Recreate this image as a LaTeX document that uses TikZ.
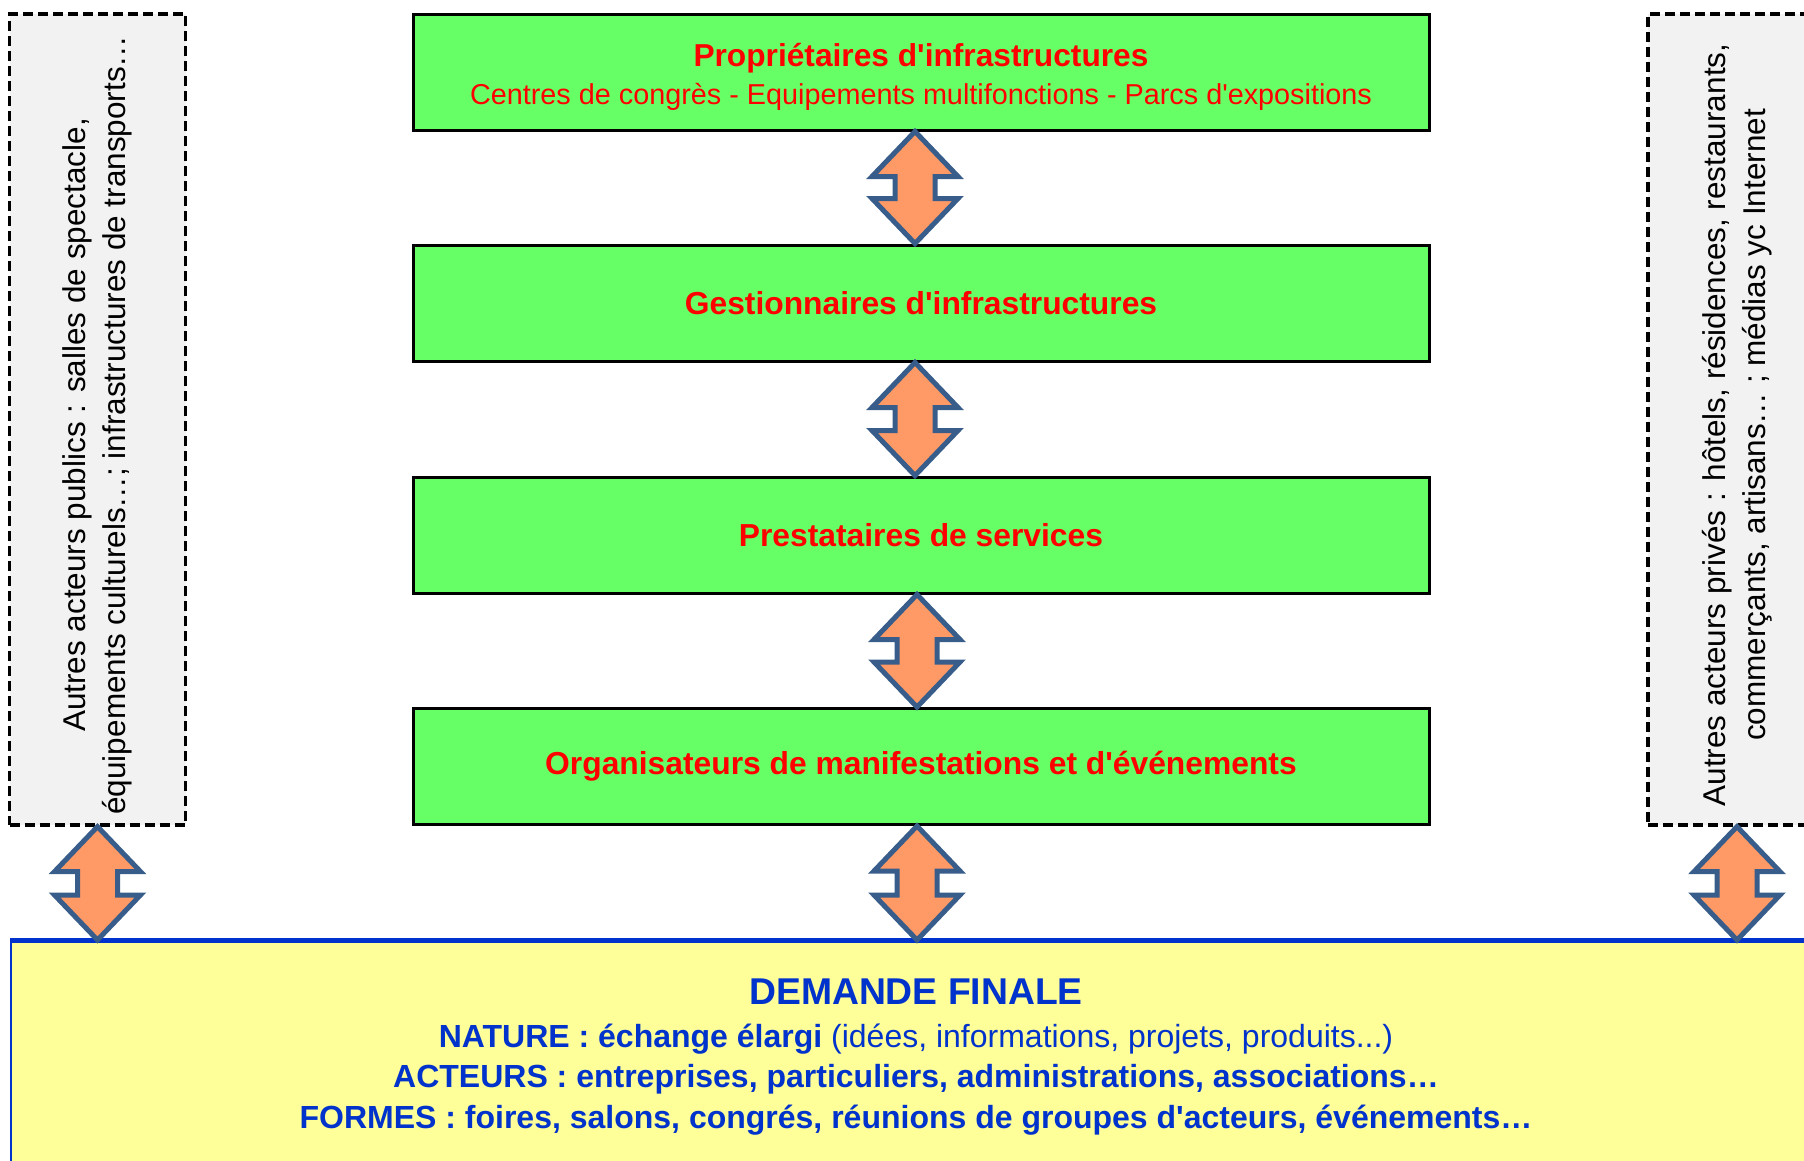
\documentclass[tikz,border=0pt]{standalone}
\usepackage{fontspec}
\setmainfont{Liberation Sans}[Ligatures=TeXOff]
\usetikzlibrary{calc}
\definecolor{boxgreen}{RGB}{102,255,102}
\definecolor{txtred}{RGB}{255,0,0}
\definecolor{demyel}{RGB}{255,255,153}
\definecolor{demblue}{RGB}{0,51,204}
\definecolor{sidegray}{RGB}{242,242,242}
\definecolor{arrfill}{RGB}{255,153,102}
\definecolor{arrline}{RGB}{56,93,138}
\tikzset{
  greenbox/.style={draw=black, line width=3pt, fill=boxgreen, minimum width=1016pt,
    minimum height=116pt, inner sep=0pt, text=txtred, align=center},
  titlefont/.style={font=\fontsize{31.8}{40}\selectfont\bfseries},
  sidebox/.style={draw=black, dash pattern=on 10pt off 5pt, line width=3.2pt, fill=sidegray, inner sep=0pt},
  sidetext/.style={rotate=90, font=\fontsize{31.5}{40}\selectfont, align=center, inner sep=0pt},
  dbl/.style={draw=arrline, fill=arrfill, line width=5pt, line join=miter},
  demline/.style={text=demblue, inner sep=0pt, font=\fontsize{32}{36}\selectfont},
}
\newcommand\dblarrow[2]{%
  \draw[dbl] let \p1=#1, \p2=#2 in
    (\x1,\y1) -- (\x1+43pt,\y1-45pt) -- (\x1+20pt,\y1-45pt) -- (\x1+20pt,\y2+45pt)
    -- (\x1+43pt,\y2+45pt) -- (\x1,\y2) -- (\x1-43pt,\y2+45pt) -- (\x1-20pt,\y2+45pt)
    -- (\x1-20pt,\y1-45pt) -- (\x1-43pt,\y1-45pt) -- cycle;}
\begin{document}
\begin{tikzpicture}[x=1pt,y=-1pt]
\useasboundingbox (0,0) rectangle (1804,1160);
% side boxes
\node[sidebox, minimum width=176pt, minimum height=811pt] (lbox) at (97.5,419.5) {};
\node[sidetext] (ltxt) at (97,425) {Autres acteurs publics : salles de spectacle,\\équipements culturels…; infrastructures de transports…};
\node[sidebox, minimum width=178pt, minimum height=811pt] (rbox) at (1737,419.5) {};
\node[sidetext] (rtxt) at (1737,425) {Autres acteurs privés : hôtels, résidences, restaurants,\\commerçants, artisans… ; médias yc Internet};
% green boxes
\node[greenbox] (b1) at (921,72) {};
\node[text=txtred, inner sep=0pt, font=\fontsize{31.7}{40}\selectfont\bfseries] (b1t) at (921,58.5) {Propriétaires d'infrastructures};
\node[text=txtred, inner sep=0pt, font=\fontsize{28.8}{34}\selectfont] (b1s) at (921,97) {Centres de congrès - Equipements multifonctions - Parcs d'expositions};
\node[greenbox, titlefont] (b2) at (921,303) {Gestionnaires d'infrastructures};
\node[greenbox, titlefont] (b3) at (921,535) {Prestataires de services};
\node[greenbox, titlefont] (b4) at (921,766.5) {Organisateurs de manifestations et d'événements};
% demand box
\node[fill=demyel, draw=demblue, line width=2pt, minimum width=1812pt, minimum height=240pt,
  anchor=north west, inner sep=0pt] (dem) at (10,940) {};
\draw[demblue, line width=5pt] (dem.north west) -- (dem.north east);
\node[demline, font=\fontsize{37.3}{40}\selectfont\bfseries] (d1) at (916,992) {DEMANDE FINALE};
\node[demline] (d2) at (916,1039.5) {\textbf{NATURE : échange élargi} (idées, informations, projets, produits...)};
\node[demline, font=\fontsize{32}{36}\selectfont\bfseries] (d3) at (916,1079.5) {ACTEURS : entreprises, particuliers, administrations, associations…};
\node[demline, font=\fontsize{32}{36}\selectfont\bfseries] (d4) at (916,1120.5) {FORMES : foires, salons, congrés, réunions de groupes d'acteurs, événements…};
% arrows
\dblarrow{($(b1.south)+(-6,0)$)}{($(b2.north)+(-6,0)$)}
\dblarrow{($(b2.south)+(-6,0)$)}{($(b3.north)+(-6,0)$)}
\dblarrow{($(b3.south)+(-4,0)$)}{($(b4.north)+(-4,0)$)}
\dblarrow{($(b4.south)+(-4,0)$)}{(dem.north -| b4.south)}
\dblarrow{(lbox.south)}{(dem.north -| lbox.south)}
\dblarrow{(rbox.south)}{(dem.north -| rbox.south)}
\end{tikzpicture}
\end{document}
